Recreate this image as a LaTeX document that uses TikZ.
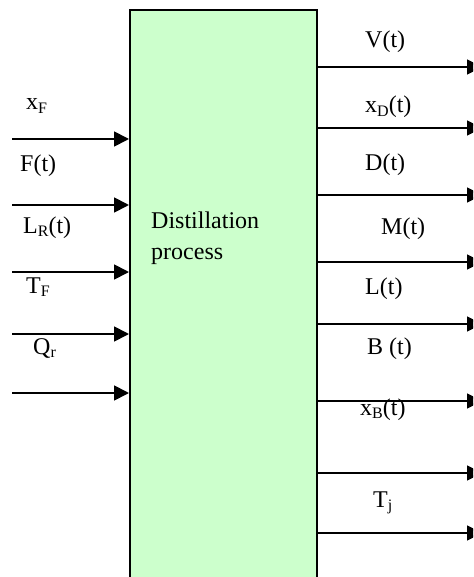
\documentclass[tikz,border=0pt]{standalone}
\usepackage{fontspec}
\setmainfont{Liberation Serif}
\usetikzlibrary{arrows.meta}
\definecolor{procgreen}{HTML}{CCFFCC}
\newcommand{\lowsub}[1]{\raisebox{-3.5pt}{\fontsize{16}{16}\selectfont #1}}
\begin{document}
\begin{tikzpicture}[x=1pt,y=-1pt,
  arr/.style={line width=1.8pt,-{Triangle[length=15pt,width=15pt]}},
  lbl/.style={anchor=base west,inner sep=0pt,font=\fontsize{24}{31}\selectfont},
  procbox/.style={draw=black,line width=2pt,fill=procgreen,minimum width=186.5pt,minimum height=580pt,inner sep=0pt}]
\clip (0,0) rectangle (473,577);
\fill[white] (0,0) rectangle (473,577);
\node[procbox] (proc) at (223.25,300) {};
% input arrows
\coordinate (in1) at (12,139);
\coordinate (in2) at (12,205);
\coordinate (in3) at (12,272);
\coordinate (in4) at (12,334);
\coordinate (in5) at (12,393);
\foreach \i in {1,...,5} \draw[arr] (in\i) -- (in\i -| proc.west);
% output arrows
\coordinate (out1) at (482,67);
\coordinate (out2) at (482,128);
\coordinate (out3) at (482,195);
\coordinate (out4) at (482,262);
\coordinate (out5) at (482,324);
\coordinate (out6) at (482,401);
\coordinate (out7) at (482,473);
\coordinate (out8) at (482,533);
\foreach \i in {1,...,8} \draw[arr] (out\i -| proc.east) -- (out\i);
% left labels
\node[lbl] (lxf) at (26,110) {x\lowsub{F}};
\node[lbl] (lft) at (20,172) {F(t)};
\node[lbl] (llr) at (23,233) {L\lowsub{R}(t)};
\node[lbl] (ltf) at (26,293) {T\lowsub{F}};
\node[lbl] (lqr) at (33,354) {Q\lowsub{r}};
% box text
\node[lbl] (ldist) at (151,228) {Distillation};
\node[lbl] (lproc) at (151,259) {process};
% right labels
\node[lbl] (lvt) at (365,48) {V(t)};
\node[lbl] (lxd) at (365,113) {x\lowsub{D}(t)};
\node[lbl] (ldt) at (365,171) {D(t)};
\node[lbl] (lmt) at (381,234) {M(t)};
\node[lbl] (llt) at (365,294) {L(t)};
\node[lbl] (lbt) at (367,354) {B (t)};
\node[lbl] (lxb) at (360,415) {x\lowsub{B}(t)};
\node[lbl] (ltj) at (373,507) {T\lowsub{j}};
\end{tikzpicture}
\end{document}
